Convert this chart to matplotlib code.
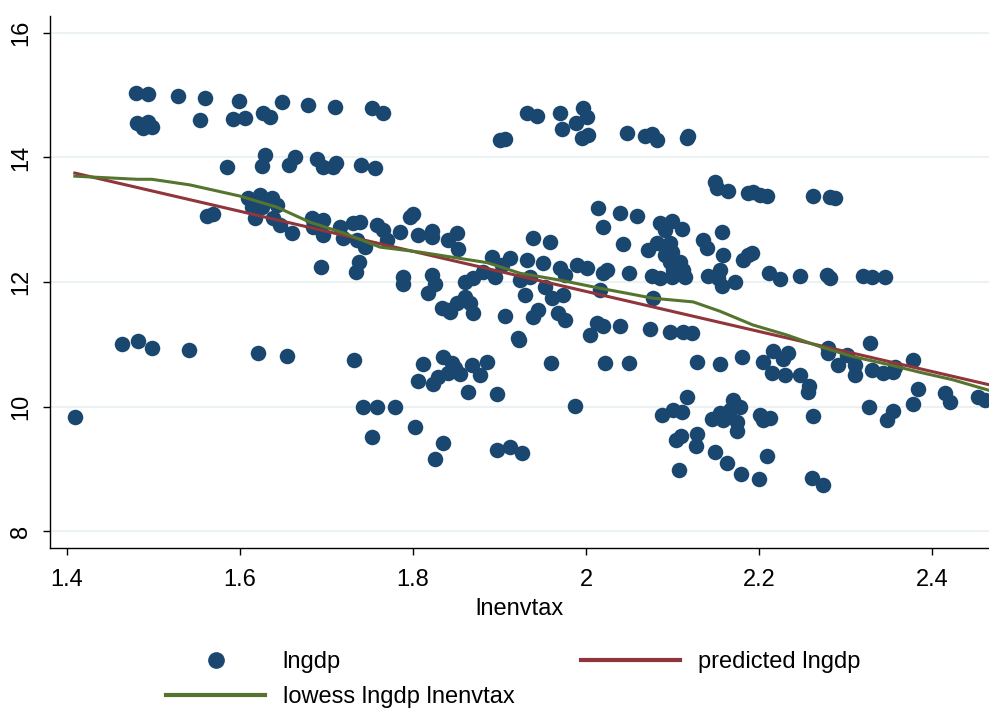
import matplotlib
matplotlib.use("Agg")
import matplotlib.pyplot as plt
from matplotlib.lines import Line2D
import numpy as np

# scatter data: lnenvtax (x) vs lngdp (y)
lnenvtax = [
    1.480, 1.494, 1.528, 1.560, 1.599, 1.649, 1.679, 1.710, 1.753, 1.765,
    1.481, 1.488, 1.494, 1.498, 1.554, 1.592, 1.606, 1.627, 1.635,
    1.585, 1.629, 1.625, 1.664, 1.657, 1.689, 1.696, 1.711, 1.708, 1.740, 1.756,
    1.562, 1.569, 1.409, 1.464, 1.482, 1.498, 1.541, 1.621, 1.654, 1.732,
    1.694, 1.738, 1.734, 1.788, 1.788, 1.822, 1.825, 1.817, 1.834, 1.840,
    1.835, 1.812, 1.806, 1.823, 1.829, 1.742, 1.758, 1.779, 1.753, 1.802,
    1.835, 1.825,
    1.609, 1.623, 1.637, 1.643, 1.614, 1.617, 1.625, 1.638, 1.646, 1.660,
    1.631, 1.683, 1.696, 1.684, 1.696, 1.716, 1.719, 1.731, 1.739, 1.735,
    1.745, 1.758, 1.765, 1.770, 1.785, 1.797, 1.800, 1.806, 1.822, 1.822,
    1.840, 1.851, 1.852, 1.843, 1.851, 1.860, 1.866, 1.869, 1.860, 1.869,
    1.881, 1.891, 1.895, 1.903, 1.912, 1.939, 1.958, 1.924, 1.932, 1.935,
    1.929, 1.950, 1.953, 1.961, 1.970, 1.973, 1.976, 1.906, 1.939, 1.945,
    1.968, 1.976, 1.921, 1.990, 2.001, 2.016, 2.014, 2.039, 2.059, 2.020,
    2.043, 2.024, 2.020, 2.050, 2.013, 2.020, 2.005, 2.039, 2.074, 2.077,
    2.097, 2.112, 2.123, 2.072, 2.082, 2.097, 2.091, 2.097, 2.109, 2.112,
    2.101, 2.076, 2.086, 2.099, 2.114, 2.086, 2.099, 2.111, 2.091, 2.135,
    2.140,
    1.932, 1.943, 1.970, 1.972, 1.997, 1.988, 2.001, 1.995, 2.002, 1.901,
    1.906, 2.047, 2.068, 2.076, 2.082, 2.117, 2.118, 2.149, 2.151,
    2.164, 2.187, 2.193, 2.201, 2.209, 2.262, 2.282, 2.288, 2.099, 2.157,
    2.158, 2.182, 2.187, 2.192, 2.141, 2.155, 2.157, 2.172, 2.153, 2.212,
    2.224, 2.247, 2.279, 2.282, 2.320, 2.331, 2.346, 2.050, 2.128, 2.155,
    2.180, 2.205, 2.216, 2.234, 2.228, 2.215, 2.230, 2.247, 2.258, 2.257,
    2.280, 2.280, 2.291, 2.302, 2.311, 2.311, 2.328, 2.331, 2.343, 2.357,
    2.378, 2.355, 2.384, 2.415, 2.421, 2.453, 2.461, 2.327, 2.355, 2.348,
    2.378, 2.088, 2.101, 2.111, 2.117, 2.104, 2.110, 2.108, 2.128, 2.127,
    2.146, 2.155, 2.170, 2.178, 2.158, 2.166, 2.175, 2.175, 2.149, 2.163,
    2.179, 2.200, 2.201, 2.205, 2.213, 2.209, 2.262, 2.261, 2.274,
    1.923, 1.960, 2.022, 1.845, 1.849, 1.840, 1.854, 1.868, 1.877, 1.886,
    1.864, 1.897, 1.897, 1.912, 1.926, 1.987,
]
lngdp = [
    15.04, 15.02, 14.99, 14.96, 14.91, 14.89, 14.84, 14.81, 14.80, 14.71,
    14.55, 14.47, 14.57, 14.49, 14.60, 14.62, 14.63, 14.71, 14.65,
    13.85, 14.04, 13.86, 14.01, 13.88, 13.98, 13.85, 13.91, 13.85, 13.88, 13.83,
    13.06, 13.09, 9.83, 11.00, 11.05, 10.94, 10.91, 10.86, 10.81, 10.75,
    12.24, 12.32, 12.16, 12.08, 11.97, 12.11, 11.97, 11.82, 11.58, 11.55,
    10.80, 10.68, 10.41, 10.36, 10.47, 10.00, 10.00, 9.99, 9.51, 9.67,
    9.41, 9.16,
    13.35, 13.40, 13.35, 13.24, 13.21, 13.03, 13.21, 13.03, 12.92, 12.79,
    13.32, 13.03, 13.00, 12.88, 12.76, 12.88, 12.71, 12.95, 12.96, 12.67,
    12.56, 12.92, 12.84, 12.67, 12.80, 13.04, 13.09, 12.76, 12.82, 12.72,
    12.67, 12.79, 12.53, 11.52, 11.66, 11.76, 11.66, 11.50, 12.00, 12.06,
    12.16, 12.40, 12.08, 12.27, 12.39, 12.71, 12.64, 12.03, 12.35, 12.08,
    11.79, 12.31, 11.92, 11.74, 12.22, 11.79, 12.11, 11.45, 11.44, 11.55,
    11.50, 11.39, 11.10, 12.27, 12.22, 11.87, 13.19, 13.11, 13.06, 12.88,
    12.61, 12.19, 12.14, 12.14, 11.34, 11.29, 11.15, 11.29, 11.24, 11.74,
    11.20, 11.20, 11.18, 12.51, 12.63, 12.63, 12.43, 12.32, 12.32, 12.19,
    12.19, 12.10, 12.06, 12.08, 12.08, 12.95, 12.98, 12.85, 12.84, 12.67,
    12.55,
    14.71, 14.67, 14.71, 14.46, 14.80, 14.55, 14.65, 14.31, 14.36, 14.28,
    14.30, 14.39, 14.35, 14.38, 14.28, 14.31, 14.35, 13.61, 13.51,
    13.46, 13.43, 13.45, 13.40, 13.38, 13.38, 13.37, 13.35, 12.48, 12.80,
    12.43, 12.35, 12.43, 12.47, 12.10, 12.19, 11.94, 12.00, 12.06, 12.14,
    12.05, 12.10, 12.11, 12.06, 12.10, 12.08, 12.08, 10.70, 10.71, 10.68,
    10.80, 10.71, 10.89, 10.86, 10.76, 10.54, 10.51, 10.51, 10.33, 10.23,
    10.94, 10.86, 10.67, 10.83, 10.51, 10.67, 11.02, 10.59, 10.54, 10.63,
    10.75, 10.55, 10.28, 10.22, 10.07, 10.15, 10.10, 10.00, 9.93, 9.78,
    10.04, 9.86, 9.94, 9.91, 10.15, 9.46, 9.53, 8.98, 9.56, 9.37,
    9.80, 9.90, 10.10, 9.99, 9.78, 9.94, 9.75, 9.61, 9.27, 9.09,
    8.92, 8.84, 9.86, 9.78, 9.82, 9.20, 9.85, 8.85, 8.74,
    11.07, 10.70, 10.70, 10.70, 10.62, 10.54, 10.52, 10.67, 10.51, 10.72,
    10.23, 10.20, 9.30, 9.35, 9.25, 10.01,
]

# linear prediction (endpoints of fitted line)
fit_x = [1.409, 2.466]
fit_y = [13.75, 10.35]

# lowess curve
lowess_x = [1.409, 1.481, 1.498, 1.542, 1.600, 1.643, 1.681, 1.719, 1.762,
            1.808, 1.886, 1.924, 1.970, 2.016, 2.047, 2.077, 2.124, 2.155,
            2.193, 2.232, 2.271, 2.309, 2.348, 2.386, 2.424, 2.466]
lowess_y = [13.70, 13.65, 13.65, 13.56, 13.38, 13.20, 12.96, 12.79, 12.56,
            12.48, 12.31, 12.14, 12.03, 11.90, 11.82, 11.74, 11.68, 11.53,
            11.31, 11.15, 10.96, 10.80, 10.68, 10.55, 10.43, 10.26]

x_ticks = [1.4, 1.6, 1.8, 2.0, 2.2, 2.4]
x_ticklabels = ["1.4", "1.6", "1.8", "2", "2.2", "2.4"]
y_ticks = [8, 10, 12, 14, 16]

navy = "#1A476F"
maroon = "#90353B"
green = "#55752F"
FONT = ["Liberation Sans Narrow", "Liberation Sans", "DejaVu Sans"]
plt.rcParams["font.family"] = FONT

fig = plt.figure(figsize=(9.89, 7.11), dpi=100)
ax = fig.add_axes([50 / 989, 163 / 711, 939 / 989, 532 / 711])

ax.scatter(lnenvtax, lngdp, s=125, color=navy, linewidths=0, zorder=3)
ax.plot(fit_x, fit_y, color=maroon, lw=2.2, zorder=4)
ax.plot(lowess_x, lowess_y, color=green, lw=2.2, zorder=5)

ax.set_xlim(1.3803, 2.466)
ax.set_ylim(7.727, 16.273)
ax.set_xticks(x_ticks)
ax.set_xticklabels(x_ticklabels)
ax.set_yticks(y_ticks)
ax.set_yticklabels([str(v) for v in y_ticks], rotation=90, va="center")
ax.tick_params(axis="both", direction="out", length=5, width=1, labelsize=17,
               colors="black")
ax.tick_params(axis="x", pad=10)
ax.tick_params(axis="y", pad=8)

for side in ["top", "right"]:
    ax.spines[side].set_visible(False)
ax.spines["left"].set_linewidth(1)
ax.spines["bottom"].set_linewidth(1)
ax.grid(axis="y", color="#EAF2F3", lw=1.5, zorder=0)
ax.set_axisbelow(True)

ax.set_xlabel("lnenvtax", fontsize=17, labelpad=5)

handles = [
    Line2D([], [], marker="o", ls="none", color=navy, markersize=11),
    Line2D([], [], color=green, lw=3),
    Line2D([], [], color=maroon, lw=3),
]
labels = ["lngdp", "lowess lngdp lnenvtax", "predicted lngdp"]
fig.legend(handles, labels, ncol=2, loc="upper left",
           bbox_to_anchor=(166 / 989, 1 - 651 / 711), frameon=False,
           fontsize=17, handlelength=4.2, handletextpad=0.75,
           columnspacing=2.8, labelspacing=0.57, borderpad=0,
           borderaxespad=0)

fig.savefig("out.png", dpi=100)
